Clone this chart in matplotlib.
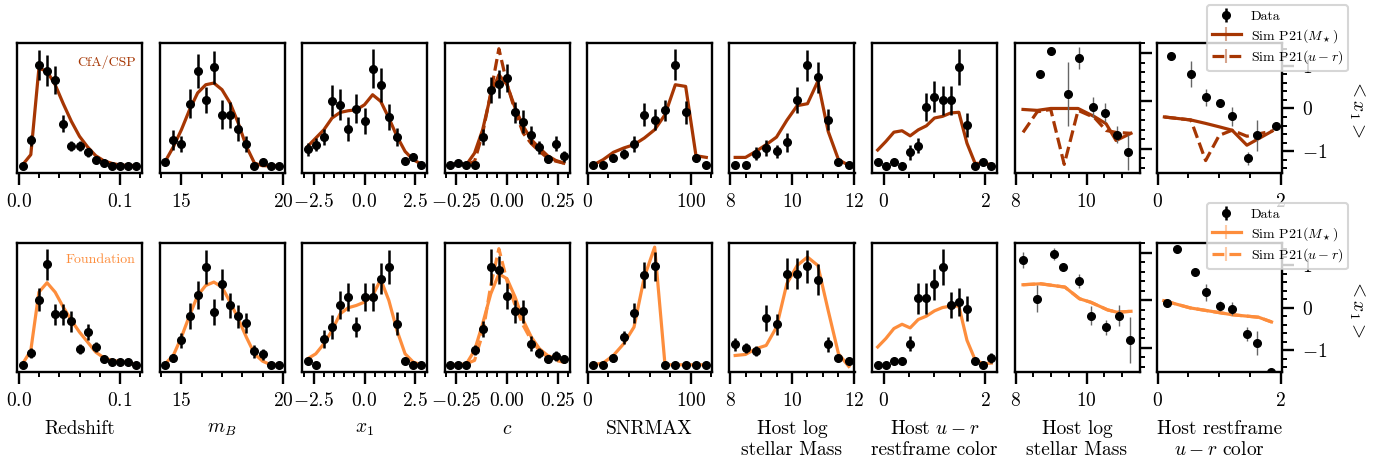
import numpy as np
import matplotlib
matplotlib.use('Agg')
import matplotlib.pyplot as plt
from matplotlib.ticker import MultipleLocator, NullLocator

plt.rcParams.update({
    'font.family': 'serif', 'font.serif': ['cmr10'], 'mathtext.fontset': 'cm',
    'axes.formatter.use_mathtext': True, 'font.size': 14,
    'axes.linewidth': 1.7,
})

DARK = '#a63603'
LIGHT = '#fd8d3c'

# ---------------- bin centres ----------------
z_bins = [0.004, 0.012, 0.020, 0.028, 0.036, 0.044, 0.052, 0.060, 0.068, 0.076, 0.084, 0.092, 0.100, 0.108, 0.116]
mb_bins = [14.2, 14.6, 15.0, 15.4, 15.8, 16.2, 16.6, 17.0, 17.4, 17.8, 18.2, 18.6, 19.0, 19.4, 19.8]
x1_bins = [-2.8, -2.4, -2.0, -1.6, -1.2, -0.8, -0.4, 0.0, 0.4, 0.8, 1.2, 1.6, 2.0, 2.4, 2.8]
c_bins = [-0.28, -0.24, -0.20, -0.16, -0.12, -0.08, -0.04, 0.0, 0.04, 0.08, 0.12, 0.16, 0.20, 0.24, 0.28]
snr_bins = [5, 15, 25, 35, 45, 55, 65, 75, 85, 95, 105, 115]
mass_bins = [8.167, 8.5, 8.833, 9.167, 9.5, 9.833, 10.167, 10.5, 10.833, 11.167, 11.5, 11.833]
ur_bins = [-0.12, 0.04, 0.20, 0.36, 0.52, 0.68, 0.84, 1.00, 1.16, 1.32, 1.48, 1.64, 1.80, 1.96, 2.12]

# ---------------- CfA/CSP (top row) ----------------
cfa_z = [0, 19.5, 77.2, 73.1, 66.2, 32.3, 14.9, 14.9, 10.3, 4.6, 2.1, 0, 0, 0, 0]
cfa_z_err = [0, 4.1, 11.5, 11.8, 10.8, 6.4, 3.8, 3.8, 3.6, 1.5, 1, 0, 0, 0, 0]
cfa_z_sim = [0.8, 8.5, 75, 72.6, 62.3, 47.7, 34.1, 22.6, 14.4, 7.7, 3.8, 1.8, 0.5, 0.3, 0]

cfa_mb = [2.6, 20, 16.7, 47.7, 72.6, 50.3, 75.6, 39.2, 39.2, 28.2, 16.7, 0, 2.8, 0, 0]
cfa_mb_err = [1.5, 7.7, 6, 11, 13, 10, 13, 11, 10, 9, 6, 0, 2, 0, 0]
cfa_mb_sim = [3.3, 14.4, 27.7, 43, 56, 62.3, 63.6, 58.5, 48.2, 32.8, 14.9, 2, 0, 0, 0]

cfa_x1 = [12.8, 16.2, 22.1, 50, 46.9, 28.2, 43.8, 34.6, 74.6, 62.3, 37.4, 22.1, 3.3, 6.7, 0.3]
cfa_x1_err = [5, 5, 6, 12, 12, 9, 11, 10, 15, 13, 10, 7, 2, 3, 1]
cfa_x1_sim = [14.9, 21.3, 27.7, 36.7, 41, 42.3, 43, 46.9, 54.6, 49.5, 36.7, 22.6, 11, 4.6, 1.3]

cfa_c = [0.3, 2, 0.3, 0.3, 22, 58, 63, 67.4, 41, 34, 23.8, 14.4, 5.1, 17, 7.2]
cfa_c_err = [0.5, 1.5, 0.5, 0.5, 6, 10, 11, 11, 8, 9, 7, 5, 3, 6, 4]
cfa_c_sim = [0.3, 2, 0.8, 9.7, 27.7, 54.6, 70, 62.3, 44.4, 30.3, 20, 13.6, 7.7, 4.1, 2]
cfa_c_sim_ur = [0.3, 2, 0.8, 3.3, 25, 56, 90, 63, 42, 25, 17, 11, 6, 3.5, 2]

cfa_snr = [0.3, 0.3, 5.9, 9.2, 16.9, 39.2, 35.4, 42.6, 77.7, 41, 5.9, 0.3]
cfa_snr_err = [0, 0, 3, 4, 6, 9, 8, 8, 12, 9, 3, 0]
cfa_snr_sim = [0.3, 4.6, 10.3, 13.6, 16.2, 21.3, 27.7, 39.2, 62.3, 61, 7.7, 6.4]

cfa_mass = [0.3, 0.3, 9.2, 13.6, 11, 17.9, 50.3, 77.2, 68, 35.4, 2.6, 0.3]
cfa_mass_err = [0, 0, 5, 6, 5, 7, 10, 12, 12, 8, 2, 0]
cfa_mass_sim = [6.4, 6.4, 11, 16.2, 22, 34.9, 46.2, 47.7, 64.9, 26.4, 4.6, 0.3]

cfa_ur = [2.6, 0, 2.6, 0, 10.3, 15.5, 45.2, 53, 50.4, 50.4, 76, 31.3, 0, 2.6, 0]
cfa_ur_err = [1.5, 0, 1.5, 0, 6, 6, 11, 12, 11, 11, 14, 9, 0, 1.5, 0]
cfa_ur_sim = [12.1, 18.6, 25.8, 26.9, 23, 27.6, 30.7, 36.7, 38, 40.6, 41.1, 17.3, 1.8, 1.8, 1]

# mean x1 vs host properties (CfA/CSP)
cfa_mx_mass = [8.68, 9.01, 9.49, 9.79, 10.19, 10.53, 10.86, 11.16]
cfa_x1_vs_mass = [0.57, 1.04, 0.14, 0.90, -0.13, -0.25, -0.71, -1.08]
cfa_x1_vs_mass_err = [0.0, 0.0, 0.67, 0.23, 0.2, 0.2, 0.18, 0.37]
cfa_sim_mass_x = [8.21, 8.61, 8.99, 9.37, 9.76, 10.22, 10.55, 10.83, 11.25]
cfa_sim_mass_pm = [-0.18, -0.2, -0.16, -0.16, -0.16, -0.33, -0.48, -0.83, -0.68]
cfa_sim_mass_pur = [-0.66, -0.23, -0.18, -1.33, -0.2, -0.35, -0.62, -0.66, -0.68]

cfa_mx_ur = [0.21, 0.54, 0.79, 1.02, 1.21, 1.46, 1.61, 1.92]
cfa_x1_vs_ur = [1.22, 0.80, 0.26, 0.13, -0.18, -1.17, -0.63, -0.41]
cfa_x1_vs_ur_err = [0, 0.3, 0.2, 0.05, 0.22, 0.16, 0.36, 0]
cfa_sim_ur_x = [0.11, 0.54, 0.78, 1.0, 1.21, 1.45, 1.86]
cfa_sim_ur_pm = [-0.2, -0.27, -0.35, -0.43, -0.51, -0.86, -0.53]
cfa_sim_ur_pur = [-0.2, -0.27, -1.22, -0.63, -0.51, -0.65, -0.53]

# ---------------- Foundation (bottom row) ----------------
fnd_z = [0, 9.3, 50.6, 77.8, 39, 39, 33.6, 12.4, 25.3, 13.7, 4.1, 2.1, 2.1, 2.1, 0]
fnd_z_err = [0, 4, 9, 12, 8, 8, 8, 4, 6, 4, 2, 1.5, 1.5, 1.5, 0]
fnd_z_sim = [0.8, 11.1, 56.3, 63.6, 56.3, 44.7, 34.4, 25.3, 17.6, 9.8, 5.4, 3.4, 2.6, 1.6, 0]

fnd_mb = [0, 5.2, 18.9, 37.7, 54.3, 75.7, 40.8, 62.3, 46, 37.7, 32.3, 10.6, 8, 0, 0]
fnd_mb_err = [0, 3, 6, 10, 11, 13, 10, 12, 10, 9, 8, 5, 4, 0, 0]
fnd_mb_sim = [0.8, 7.2, 21.4, 38.2, 53.7, 61.5, 64.1, 60.2, 48.6, 35.7, 21.4, 8.5, 2.8, 0, 0]

fnd_x1 = [2.8, 0, 20.2, 29.2, 46.5, 52.5, 29.2, 52.5, 52.5, 66.7, 75.7, 31.8, 2.8, 0, 0]
fnd_x1_err = [2, 0, 7, 9, 11, 11, 8, 11, 11, 12, 13, 9, 2, 0, 0]
fnd_x1_sim = [4.7, 8.5, 16.3, 26.6, 39.5, 44.2, 46, 48.6, 53.7, 66.1, 49.9, 26.6, 8.5, 2.1, 0]

fnd_c = [0, 0, 0, 11.6, 27.6, 75.7, 73.6, 53.5, 41.6, 41.6, 16.3, 9, 4.7, 7, 4.7]
fnd_c_err = [0, 0, 0, 4, 6, 14, 11, 10, 9, 9, 6, 4, 3, 4, 3]
fnd_c_sim = [0, 0, 0.8, 11.1, 31.8, 55, 70.5, 66.7, 52.5, 34.4, 21.4, 12.4, 7.2, 4.7, 3.4]
fnd_c_sim_ur = [0, 0, 0.8, 3.4, 24, 61.5, 90, 65, 46, 30.5, 18.9, 11.1, 6, 3.4, 2]

fnd_snr = [0, 0, 5.4, 21.4, 40, 69.3, 76.2, 0, 0, 0, 0, 0]
fnd_snr_err = [0, 0, 3, 5, 8, 10, 11, 0, 0, 0, 0, 0]
fnd_snr_sim = [0, 1.3, 7.2, 16.3, 29.2, 68, 91.2, 0, 0, 0, 0, 0]

fnd_mass = [15.8, 13.2, 10.6, 36.4, 31.3, 70.5, 70.5, 76.2, 65.9, 15.8, 5.4, 2.6]
fnd_mass_err = [5, 4, 4, 10, 8, 12, 12, 13, 12, 6, 2, 1.5]
fnd_mass_sim = [7.2, 8, 12.4, 15, 29.2, 62.8, 77, 83.5, 77, 42.1, 8.5, -1.3]

fnd_ur = [0, 0, 2.9, 2.9, 16.4, 51.4, 51.4, 62.6, 76.1, 46.2, 48.8, 43.6, 2.9, 0, 5.5]
fnd_ur_err = [0, 0, 1.5, 1.5, 6, 12, 12, 12, 14, 10, 11, 10, 1.5, 0, 4]
fnd_ur_sim = [13.8, 20.3, 28.1, 31.4, 28.6, 35.1, 37.7, 41.8, 44.4, 45.5, 45.5, 19, 3.9, 0.8, 1.3]

fnd_mx_mass = [8.22, 8.59, 9.08, 9.34, 9.8, 10.12, 10.54, 10.9, 11.22]
fnd_x1_vs_mass = [0.86, 0.035, 0.98, 0.70, 0.41, -0.32, -0.57, -0.32, -0.83]
fnd_x1_vs_mass_err = [0.17, 0.29, 0.13, 0.06, 0.15, 0.2, 0.15, 0.22, 0.49]
fnd_sim_mass_x = [8.21, 8.71, 9.39, 9.8, 10.12, 10.59, 10.86, 11.25]
fnd_sim_mass_pm = [0.33, 0.35, 0.28, 0.035, -0.04, -0.2, -0.25, -0.23]

fnd_mx_ur = [0.15, 0.31, 0.6, 0.79, 1.02, 1.21, 1.45, 1.61, 1.84]
fnd_x1_vs_ur = [0.12, 1.4, 0.85, 0.37, 0.04, -0.02, -0.61, -0.83, -1.51]
fnd_x1_vs_ur_err = [0, 0, 0, 0.2, 0.12, 0.15, 0.17, 0.28, 0.1]
fnd_sim_ur_x = [0.1, 0.53, 1.21, 1.64, 1.85]
fnd_sim_ur_pm = [0.17, 0.0, -0.16, -0.22, -0.33]

xlabels = ['Redshift', '$m_B$', '$x_1$', '$c$', 'SNRMAX', 'Host log\nstellar Mass',
           'Host $u-r$\nrestframe color', 'Host log\nstellar Mass', 'Host restframe\n$u-r$ color']
major_steps = [0.1, 5, 2.5, 0.25, 100, 2, 2, 2, 2]
minor_steps = [0.02, 1, 0.5, 0.05, 20, 0.5, 0.5, 0.5, 0.5]

rows = [
    dict(color=DARK, name='CfA/CSP', namey=0.85,
         hists=[(z_bins, cfa_z, cfa_z_err, cfa_z_sim, None),
                (mb_bins, cfa_mb, cfa_mb_err, cfa_mb_sim, None),
                (x1_bins, cfa_x1, cfa_x1_err, cfa_x1_sim, None),
                (c_bins, cfa_c, cfa_c_err, cfa_c_sim, cfa_c_sim_ur),
                (snr_bins, cfa_snr, cfa_snr_err, cfa_snr_sim, None),
                (mass_bins, cfa_mass, cfa_mass_err, cfa_mass_sim, None),
                (ur_bins, cfa_ur, cfa_ur_err, cfa_ur_sim, None)],
         mass=(cfa_mx_mass, cfa_x1_vs_mass, cfa_x1_vs_mass_err, cfa_sim_mass_x, cfa_sim_mass_pm, cfa_sim_mass_pur),
         ur=(cfa_mx_ur, cfa_x1_vs_ur, cfa_x1_vs_ur_err, cfa_sim_ur_x, cfa_sim_ur_pm, cfa_sim_ur_pur)),
    dict(color=LIGHT, name='Foundation', namey=0.87,
         hists=[(z_bins, fnd_z, fnd_z_err, fnd_z_sim, None),
                (mb_bins, fnd_mb, fnd_mb_err, fnd_mb_sim, None),
                (x1_bins, fnd_x1, fnd_x1_err, fnd_x1_sim, None),
                (c_bins, fnd_c, fnd_c_err, fnd_c_sim, fnd_c_sim_ur),
                (snr_bins, fnd_snr, fnd_snr_err, fnd_snr_sim, None),
                (mass_bins, fnd_mass, fnd_mass_err, fnd_mass_sim, None),
                (ur_bins, fnd_ur, fnd_ur_err, fnd_ur_sim, None)],
         mass=(fnd_mx_mass, fnd_x1_vs_mass, fnd_x1_vs_mass_err, fnd_sim_mass_x, fnd_sim_mass_pm, fnd_sim_mass_pm),
         ur=(fnd_mx_ur, fnd_x1_vs_ur, fnd_x1_vs_ur_err, fnd_sim_ur_x, fnd_sim_ur_pm, fnd_sim_ur_pm)),
]

W, H = 1377, 459
fig = plt.figure(figsize=(W / 100, H / 100), dpi=100)
lefts = [17, 159.5, 302, 444.5, 587, 729.5, 872, 1014.5, 1157]
row_geom = [(173, 130), (372, 129)]
LW = 2.3

def style_x(ax, j, show_label):
    ax.xaxis.set_major_locator(MultipleLocator(major_steps[j]))
    ax.xaxis.set_minor_locator(MultipleLocator(minor_steps[j]))
    ax.tick_params(axis='x', which='major', direction='out', length=8.5, width=1.7, pad=6, labelsize=14)
    ax.tick_params(axis='x', which='minor', direction='out', length=3.8, width=1.4)
    if show_label:
        ax.set_xlabel(xlabels[j], fontsize=14, labelpad=7, linespacing=1.25)

for r, row in enumerate(rows):
    ybot, hh = row_geom[r]
    col = row['color']
    axes = []
    for j in range(9):
        ax = fig.add_axes([lefts[j] / W, (H - ybot) / H, 125 / W, hh / H])
        axes.append(ax)
    # histogram panels
    for j, (xb, d, e, s, s2) in enumerate(row['hists']):
        ax = axes[j]
        if s2 is not None:
            ax.plot(xb, s2, color=col, lw=LW, ls='--', zorder=2)
        ax.plot(xb, s, color=col, lw=LW, zorder=3)
        ax.errorbar(xb, d, yerr=e, fmt='o', color='k', ms=5.5, elinewidth=1.8, capsize=0, zorder=4)
        ax.set_ylim(-5.6, 94.4)
        ax.yaxis.set_major_locator(NullLocator())
        ax.yaxis.set_minor_locator(NullLocator())
        style_x(ax, j, r == 1)
    axes[0].text(0.95, row['namey'], row['name'], transform=axes[0].transAxes,
                 ha='right', va='center', fontsize=10, color=col)
    # mean x1 panels
    handles = None
    for j, key, xlim, ylim in [(7, 'mass', (7.97, 11.49), (-1.51, 1.21)),
                               (8, 'ur', (-0.01, 2.02), (-1.51, 1.53))]:
        ax = axes[j]
        mx, my, me, sx, spm, spur = row[key]
        h_ur = ax.errorbar(sx, spur, yerr=[0] * len(sx), color=col, lw=LW, ls='--',
                           ecolor=matplotlib.colors.to_rgba(col, 0.45), elinewidth=1.5, zorder=2)
        h_m = ax.errorbar(sx, spm, yerr=[0] * len(sx), color=col, lw=LW, ls='-',
                          ecolor=matplotlib.colors.to_rgba(col, 0.45), elinewidth=1.5, zorder=3)
        ax.errorbar(mx, my, yerr=me, fmt='o', color='k', ms=5.5, ecolor='0.4',
                    elinewidth=1.0, capsize=0, zorder=4)
        ax.set_xlim(*xlim)
        ax.set_ylim(*ylim)
        ax.yaxis.set_ticks_position('right')
        ax.yaxis.set_major_locator(MultipleLocator(1))
        ax.yaxis.set_minor_locator(MultipleLocator(0.2))
        ax.tick_params(axis='y', which='major', direction='out', length=8.5, width=1.7, pad=6,
                       labelsize=14, left=False, right=True, labelleft=False, labelright=(j == 8))
        ax.tick_params(axis='y', which='minor', direction='out', length=3.8, width=1.4,
                       left=False, right=True)
        style_x(ax, j, r == 1)
        if j == 8:
            handles = (h_m, h_ur)
    # data handle from a histogram panel
    h_data = axes[6].containers[0]
    ax9 = axes[8]
    ax9.yaxis.set_label_position('right')
    ax9.set_ylabel('$<x_1>$', rotation=270, va='bottom', labelpad=14, fontsize=14)
    top = (ybot - (5 if r == 0 else 203)) / hh
    leg = ax9.legend([h_data, handles[0], handles[1]],
                     ['Data', r'Sim P21($M_\star$)', r'Sim P21($u-r$)'],
                     loc='upper right', bbox_to_anchor=(1.528, top), borderaxespad=0,
                     fontsize=10, framealpha=0.8, edgecolor='0.8', fancybox=True,
                     handlelength=2.1, handletextpad=0.7, borderpad=0.35, labelspacing=0.3)
    leg.get_frame().set_linewidth(1.5)
    leg.set_zorder(10)

fig.savefig('out.png', dpi=100)
